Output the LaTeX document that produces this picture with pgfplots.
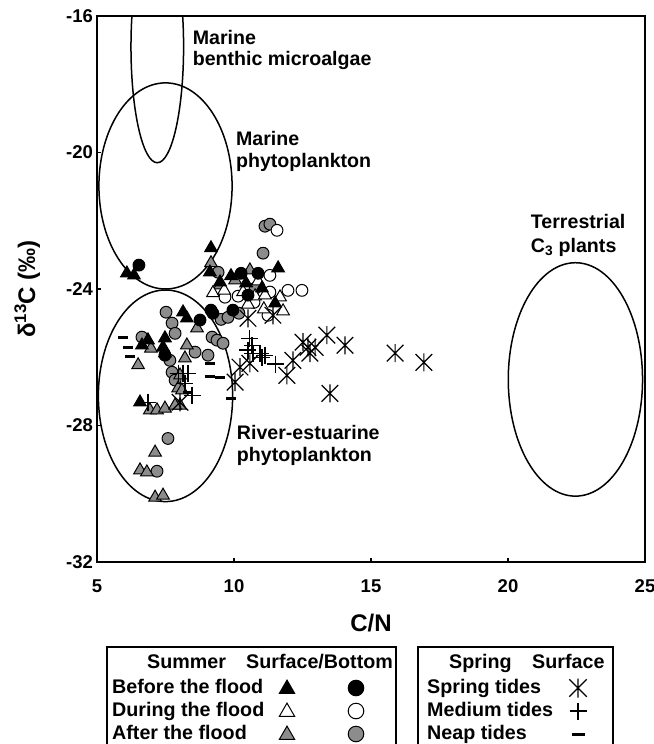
\documentclass[border=0pt]{standalone}
\usepackage{fontspec}
\setmainfont{Liberation Sans}
\usepackage{pgfplots}
\pgfplotsset{compat=1.18}
\definecolor{mgray}{RGB}{140,140,140}

\pgfdeclareplotmark{tri}{%
  \pgfpathmoveto{\pgfqpoint{0pt}{\pgfplotmarksize}}%
  \pgfpathlineto{\pgfqpoint{-0.866\pgfplotmarksize}{-0.5\pgfplotmarksize}}%
  \pgfpathlineto{\pgfqpoint{0.866\pgfplotmarksize}{-0.5\pgfplotmarksize}}%
  \pgfpathclose
  \pgfusepathqfillstroke
}
\pgfdeclareplotmark{ast}{%
  \pgfpathmoveto{\pgfqpoint{0pt}{-\pgfplotmarksize}}%
  \pgfpathlineto{\pgfqpoint{0pt}{\pgfplotmarksize}}%
  \pgfpathmoveto{\pgfqpoint{-0.92\pgfplotmarksize}{-0.92\pgfplotmarksize}}%
  \pgfpathlineto{\pgfqpoint{0.92\pgfplotmarksize}{0.92\pgfplotmarksize}}%
  \pgfpathmoveto{\pgfqpoint{-0.92\pgfplotmarksize}{0.92\pgfplotmarksize}}%
  \pgfpathlineto{\pgfqpoint{0.92\pgfplotmarksize}{-0.92\pgfplotmarksize}}%
  \pgfusepathqstroke
}
\pgfdeclareplotmark{dsh}{%
  \pgfpathmoveto{\pgfqpoint{-\pgfplotmarksize}{0pt}}%
  \pgfpathlineto{\pgfqpoint{\pgfplotmarksize}{0pt}}%
  \pgfusepathqstroke
}

\pgfplotsset{
  gtri/.style={only marks, mark=tri, mark size=#1, mark options={fill=mgray, draw=black, line width=1bp}},
  gtri/.default=7.3bp,
  btri/.style={only marks, mark=tri, mark size=#1, mark options={fill=black, draw=black, line width=1bp}},
  btri/.default=7.3bp,
  wtri/.style={only marks, mark=tri, mark size=#1, mark options={fill=white, draw=black, line width=1bp}},
  wtri/.default=7.3bp,
  gcir/.style={only marks, mark=*, mark size=#1, mark options={fill=mgray, draw=black, line width=1bp}},
  gcir/.default=5.9bp,
  bcir/.style={only marks, mark=*, mark size=#1, mark options={fill=black, draw=black, line width=1bp}},
  bcir/.default=5.9bp,
  wcir/.style={only marks, mark=*, mark size=#1, mark options={fill=white, draw=black, line width=1bp}},
  wcir/.default=5.9bp,
  astm/.style={only marks, mark=ast, mark size=#1, mark options={draw=black, line width=1.2bp}},
  astm/.default=9bp,
  plm/.style={only marks, mark=+, mark size=#1, mark options={draw=black, line width=1.2bp}},
  plm/.default=8.5bp,
  dsm/.style={only marks, mark=dsh, mark size=#1, mark options={draw=black, line width=3bp}},
  dsm/.default=5bp,
}

\newcommand{\annfont}{\fontsize{19.6bp}{23bp}\selectfont\bfseries}
\newcommand{\legfont}{\fontsize{19.7bp}{24bp}\selectfont\bfseries}

\begin{document}
\begin{tikzpicture}
\begin{axis}[
  at={(97bp,182bp)}, anchor=south west,
  width=548bp, height=546bp, scale only axis,
  xmin=5, xmax=25, ymin=-32, ymax=-16,
  xtick={5,10,15,20,25}, ytick={-32,-28,-24,-20,-16},
  /pgf/number format/assume math mode=true,
  ticklabel style={font=\fontsize{18.5bp}{18.5bp}\selectfont\bfseries},
  xticklabel style={yshift=-14bp},
  yticklabel style={xshift=-0.5bp},
  tick align=inside, major tick length=4bp,
  xtick pos=left, ytick pos=left,
  axis line style={line width=2bp},
  every tick/.style={line width=1.3bp, black},
  xlabel={C/N},
  ylabel={δ\textsuperscript{13}C (‰)},
  xlabel style={font=\fontsize{24bp}{24bp}\selectfont\bfseries, at={(axis description cs:0.5,-0.1264)}, anchor=base},
  ylabel style={font=\fontsize{24bp}{24bp}\selectfont\bfseries, at={(axis description cs:-0.113,0.5)}, anchor=base},
]
% source regions
\draw[line width=1.5bp] (axis cs:7.2,-16.9) ellipse [x radius=0.96, y radius=3.4];
\draw[line width=1.5bp] (axis cs:7.5,-20.98) ellipse [x radius=2.43, y radius=3.02];
\draw[line width=1.5bp] (axis cs:7.5,-27.13) ellipse [x radius=2.45, y radius=3.1];
\draw[line width=1.5bp] (axis cs:22.46,-26.65) ellipse [x radius=2.45, y radius=3.42];

\node[anchor=base west, inner sep=0pt, font=\annfont] at (axis cs:8.49,-16.84) {Marine};
\node[anchor=base west, inner sep=0pt, font=\annfont] at (axis cs:8.49,-17.46) {benthic microalgae};
\node[anchor=base west, inner sep=0pt, font=\annfont] at (axis cs:10.07,-19.80) {Marine};
\node[anchor=base west, inner sep=0pt, font=\annfont] at (axis cs:10.07,-20.44) {phytoplankton};
\node[anchor=base west, inner sep=0pt, font=\annfont] at (axis cs:10.1,-28.40) {River-estuarine};
\node[anchor=base west, inner sep=0pt, font=\annfont] at (axis cs:10.1,-29.06) {phytoplankton};
\node[anchor=base west, inner sep=0pt, font=\annfont] at (axis cs:20.83,-22.23) {Terrestrial};
\node[anchor=base west, inner sep=0pt, font=\annfont] at (axis cs:20.83,-22.93) {C\textsubscript{3} plants};

% Summer, after the flood (grey)
\addplot[gcir] coordinates {
(9.42,-23.51) (11.06,-22.95) (11.13,-22.16) (11.31,-22.10) (7.52,-24.68)
(7.74,-25.00) (7.85,-25.30) (6.64,-25.41) (9.20,-25.41) (9.38,-25.50)
(9.60,-25.59) (8.58,-25.85) (7.66,-26.09) (9.05,-25.94) (9.53,-24.89)
(9.78,-24.83) (10.18,-24.71) (10.77,-23.98) (7.74,-26.44) (7.85,-26.67)
(7.59,-28.38) (7.19,-29.34)
};
\addplot[gtri] coordinates {
(9.16,-23.24) (9.49,-23.89) (10.04,-23.74) (10.58,-23.45) (8.65,-25.15)
(8.28,-25.65) (6.97,-25.74) (6.50,-26.23) (8.21,-26.03) (8.03,-26.53)
(7.96,-26.91) (8.10,-26.97) (8.03,-27.41) (6.93,-27.55) (7.19,-27.55)
(7.48,-27.50) (7.85,-27.41) (7.12,-28.79) (6.57,-29.31) (6.82,-29.37)
(7.12,-30.11) (7.41,-30.05)
};
% Summer, during the flood (white)
\addplot[wcir] coordinates {
(9.67,-24.24) (10.15,-24.21) (11.31,-23.60) (11.31,-24.09) (11.97,-24.04)
(12.48,-24.04) (11.57,-22.28) (11.24,-24.77) (10.73,-24.39)
};
\addplot[wtri] coordinates {
(9.23,-24.12) (9.64,-24.04) (10.33,-24.09) (10.77,-24.21) (11.13,-24.18)
(11.68,-24.24) (11.79,-24.65) (11.09,-24.59) (10.51,-24.45) (10.88,-23.77)
};
% Summer, before the flood (black)
\addplot[bcir] coordinates {
(6.53,-23.30) (8.76,-24.91) (9.23,-24.71) (9.96,-24.62) (10.26,-23.54)
(10.88,-23.54) (10.51,-24.18) (7.48,-25.94) (9.16,-24.62)
};
\addplot[btri] coordinates {
(6.09,-23.54) (6.35,-23.60) (9.16,-22.80) (9.12,-23.51) (9.49,-23.80)
(9.89,-23.62) (11.61,-23.39) (11.50,-24.42) (8.14,-24.68) (8.28,-24.86)
(7.48,-25.44) (6.86,-25.50) (6.64,-25.65) (7.41,-25.71) (7.48,-25.88)
(6.57,-27.32) (10.44,-23.83) (11.02,-23.98)
};
% Spring: medium tides
\addplot[plm] coordinates {
(7.96,-26.47) (8.14,-26.47) (8.32,-26.47) (8.21,-26.76) (8.47,-27.11)
(6.86,-27.32) (10.51,-25.79) (10.69,-25.88) (11.02,-26.00) (10.66,-25.65)
(10.58,-25.44) (11.13,-25.94) (11.50,-26.20) (10.95,-25.88)
};
% Spring: spring tides
\addplot[astm] coordinates {
(10.51,-24.86) (11.42,-24.77) (13.39,-25.35) (14.05,-25.65) (15.88,-25.88)
(16.93,-26.15) (13.50,-27.06) (12.52,-25.56) (12.70,-25.71) (12.96,-25.71)
(12.77,-25.88) (12.15,-26.09) (11.93,-26.53) (10.58,-26.18) (10.04,-26.73)
(10.22,-26.29) (8.03,-27.32)
};
% Spring: neap tides
\addplot[dsm] coordinates {
(5.95,-25.41) (6.13,-25.71) (6.20,-25.97) (8.32,-27.03) (9.12,-26.18)
(9.12,-26.56) (9.49,-26.59) (9.89,-27.20)
};
\end{axis}

% legend drawn in a pixel-coordinate overlay axis
\begin{axis}[
  at={(0bp,0bp)}, anchor=south west,
  width=654bp, height=744bp, scale only axis,
  xmin=0, xmax=654, ymin=0, ymax=744, y dir=reverse,
  hide axis, clip=false,
]
\draw[line width=2bp] (axis cs:107,647) rectangle (axis cs:396,770);
\draw[line width=2bp] (axis cs:418,647) rectangle (axis cs:613,770);
\node[anchor=base west, inner sep=0pt, font=\legfont] at (axis cs:147,668) {Summer};
\node[anchor=base west, inner sep=0pt, font=\legfont] at (axis cs:246,668) {Surface/Bottom};
\node[anchor=base west, inner sep=0pt, font=\legfont] at (axis cs:112,693) {Before the flood};
\node[anchor=base west, inner sep=0pt, font=\legfont] at (axis cs:112,716) {During the flood};
\node[anchor=base west, inner sep=0pt, font=\legfont] at (axis cs:112,739) {After the flood};
\addplot[btri=8.9bp] coordinates {(287,689)};
\addplot[wtri=8.9bp] coordinates {(287,712)};
\addplot[gtri=8.9bp] coordinates {(287,735)};
\addplot[bcir=7.8bp] coordinates {(356,688)};
\addplot[wcir=7.8bp] coordinates {(356,711)};
\addplot[gcir=7.8bp] coordinates {(356,734)};
\node[anchor=base west, inner sep=0pt, font=\legfont] at (axis cs:449,668) {Spring};
\node[anchor=base west, inner sep=0pt, font=\legfont] at (axis cs:532,668) {Surface};
\node[anchor=base west, inner sep=0pt, font=\legfont] at (axis cs:427,693) {Spring tides};
\node[anchor=base west, inner sep=0pt, font=\legfont] at (axis cs:427,716) {Medium tides};
\node[anchor=base west, inner sep=0pt, font=\legfont] at (axis cs:427,739) {Neap tides};
\addplot[astm=9.5bp] coordinates {(578,688)};
\addplot[plm=8.5bp] coordinates {(578,711)};
\addplot[dsm=6.5bp] coordinates {(578,734)};
\end{axis}
\pgfresetboundingbox
\path[use as bounding box] (0bp,0bp) rectangle (654bp,744bp);
\end{tikzpicture}
\end{document}
